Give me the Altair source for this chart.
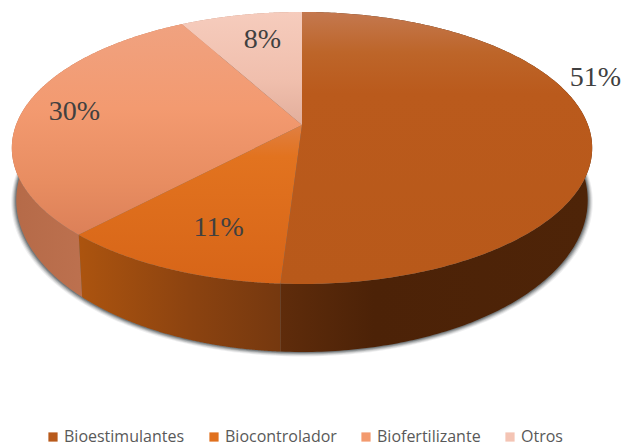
import numpy as np
import pandas as pd
import altair as alt

names = ["Bioestimulantes", "Biocontrolador", "Biofertilizante", "Otros"]
shares = [51, 11, 30, 8]
labels = ["51%", "11%", "30%", "8%"]
legend_colors = ["#B85A1B", "#E0701E", "#F39A6E", "#F4C4B4"]

# perspective model of the disc
CX, K_TOP, K_LOW, C = 302.0, 286.0, 281.6, -0.169
A_TOP, B_TOP, A_LOW, B_LOW = 111.0, 125.0, 118.0, 174.5


def project(theta, r=1.0, k=K_TOP, a=A_TOP, b=B_TOP):
    u, v = r * np.sin(theta), -r * np.cos(theta)
    d = 1 + C * v
    return CX + k * u / d, (a * v + b) / d


cum = np.cumsum([0] + shares) / sum(shares) * 2 * np.pi


def frame(xs, ys):
    return pd.DataFrame({"x": xs, "y": ys, "i": np.arange(len(xs))})


def top_poly(t0, t1):
    th = np.linspace(t0, t1, 240)
    x, y = project(th)
    cx, cy = project(np.array([0.0]), r=0.0)
    return frame(np.r_[cx, x, cx], np.r_[cy, y, cy])


def wall_poly(t0, t1):
    th = np.linspace(t0, t1, 240)
    x, y = project(th)
    x2, y2 = project(th, k=K_LOW, a=A_LOW, b=B_LOW)
    return frame(np.r_[x, x2[::-1], x[0]], np.r_[y, y2[::-1], y[0]])


def shadow_poly(grow):
    th = np.linspace(0, 2 * np.pi, 360)
    x, y = project(th, k=K_LOW + grow, a=A_LOW + grow * 0.5, b=B_LOW)
    return frame(x, y + grow * 0.3)


X = alt.X("x:Q", axis=None, scale=alt.Scale(domain=[8, 623], range=[0, 615], nice=False, zero=False))
Y = alt.Y("y:Q", axis=None, scale=alt.Scale(domain=[8, 446], range=[0, 438], nice=False, zero=False))


def grad_v(stops):
    return alt.Gradient(gradient="linear", x1=0, x2=0, y1=0, y2=1,
                        stops=[alt.GradientStop(offset=o, color=c) for o, c in stops])


def grad_h(stops):
    return alt.Gradient(gradient="linear", x1=0, x2=1, y1=0, y2=0,
                        stops=[alt.GradientStop(offset=o, color=c) for o, c in stops])


def poly(df, fill, opacity=1.0):
    return alt.Chart(df).mark_line(fill=fill, stroke="transparent", strokeWidth=0,
                                   opacity=opacity).encode(x=X, y=Y, order="i:Q")


layers = []
for g, op in [(5.0, 0.08), (4.0, 0.12), (3.0, 0.18), (2.0, 0.25), (1.0, 0.35)]:
    layers.append(poly(shadow_poly(g), "#30363c", op))

wall_fills = [
    grad_h([(0, "#5F2C0B"), (0.3, "#4C2207"), (1, "#4E2408")]),
    grad_h([(0, "#AC540F"), (0.55, "#8C4310"), (1, "#75380F")]),
    grad_h([(0, "#B56A48"), (0.5, "#BE7250"), (1, "#C87A55")]),
    "#C8907A",
]
top_fills = [
    grad_v([(0, "#C4784F"), (0.15, "#BD6529"), (0.3, "#BA5A1C"), (1, "#B8591A")]),
    grad_v([(0, "#E07F42"), (0.2, "#E2731F"), (1, "#D76518")]),
    grad_v([(0, "#F0A280"), (0.4, "#F39A70"), (0.75, "#E88D61"), (1, "#DC8058")]),
    grad_v([(0, "#F6CCBD"), (0.6, "#F0BFAD"), (1, "#E2AE9B")]),
]

for i in [3, 2, 1, 0]:
    layers.append(poly(wall_poly(cum[i], cum[i + 1]), wall_fills[i]))
for i in [3, 2, 1, 0]:
    layers.append(poly(top_poly(cum[i], cum[i + 1]), top_fills[i]))

# legend
legend_df = pd.DataFrame({"name": names, "x": [300.0] * 4, "y": [200.0] * 4})
layers.append(
    alt.Chart(legend_df).mark_square(size=0, opacity=1).encode(
        x=X, y=Y,
        color=alt.Color(
            "name:N",
            sort=None,
            scale=alt.Scale(domain=names, range=legend_colors),
            legend=alt.Legend(
                title=None, orient="none", legendX=37, legendY=421, columns=4,
                symbolType="square", symbolSize=85, symbolStrokeWidth=0,
                labelFont="Open Sans", labelFontSize=16, labelColor="#595959",
                columnPadding=21, padding=0, symbolOffset=0, labelOffset=3,
            ),
        ),
    )
)

# percentage labels, anchored on each slice's mid angle
mids = (cum[:-1] + cum[1:]) / 2
radii = [1.0, 0.75, 0.75, 0.75]
offsets = [(6, -51), (13, 0), (-18, -1), (8, 0)]
for i in range(4):
    lx, ly = project(np.array([mids[i]]), r=radii[i])
    df = pd.DataFrame({"x": lx, "y": ly, "t": [labels[i]]})
    layers.append(
        alt.Chart(df).mark_text(font="Liberation Serif", fontSize=28, color="#404040",
                                align="center", baseline="middle",
                                dx=offsets[i][0], dy=offsets[i][1]).encode(x=X, y=Y, text="t:N")
    )

chart = alt.layer(*layers).properties(
    width=615, height=438, padding=0,
    autosize=alt.AutoSizeParams(type="none"),
).configure_view(stroke=None)

chart.save("out.html", embed_options={"renderer": "svg", "actions": False})
